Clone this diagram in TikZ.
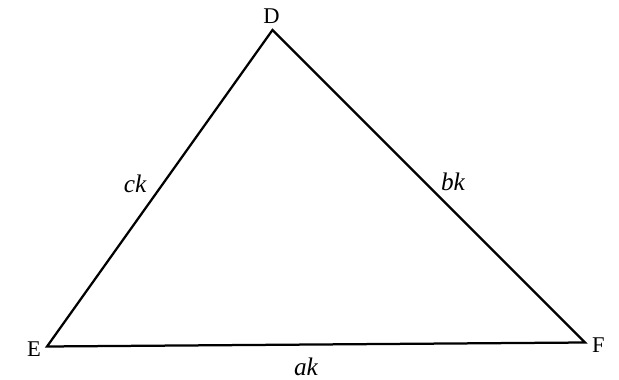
\documentclass[tikz,border=0pt]{standalone}
\usepackage{fontspec}
\setmainfont{Liberation Serif}
\usepackage{tikz}
\usetikzlibrary{positioning, calc}

\tikzset{
    vertexlabel/.style={font=\fontsize{16}{19}\selectfont},
    sidelabel/.style={font=\fontsize{18}{21}\selectfont\itshape}
}

\begin{document}
\begin{tikzpicture}[x=0.025cm, y=-0.025cm]
    \useasboundingbox (0,0) rectangle (619,380);

    % Vertices
    \coordinate (D) at (272.5,30);
    \coordinate (E) at (47,346.5);
    \coordinate (F) at (585,342.5);

    % Triangle
    \draw[line width=1.6pt, line join=miter] (D) -- (F) -- (E) -- cycle;

    % Vertex labels
    \node[vertexlabel] (labD) at (271.5,16) {D};
    \node[vertexlabel] (labE) at (34,349) {E};
    \node[vertexlabel] (labF) at (598.5,345) {F};

    % Side labels
    \node[sidelabel] (sideC) at (135,184) {ck};
    \node[sidelabel] (sideB) at (453,182) {bk};
    \node[sidelabel] (sideA) at (306,367) {ak};
\end{tikzpicture}
\end{document}
